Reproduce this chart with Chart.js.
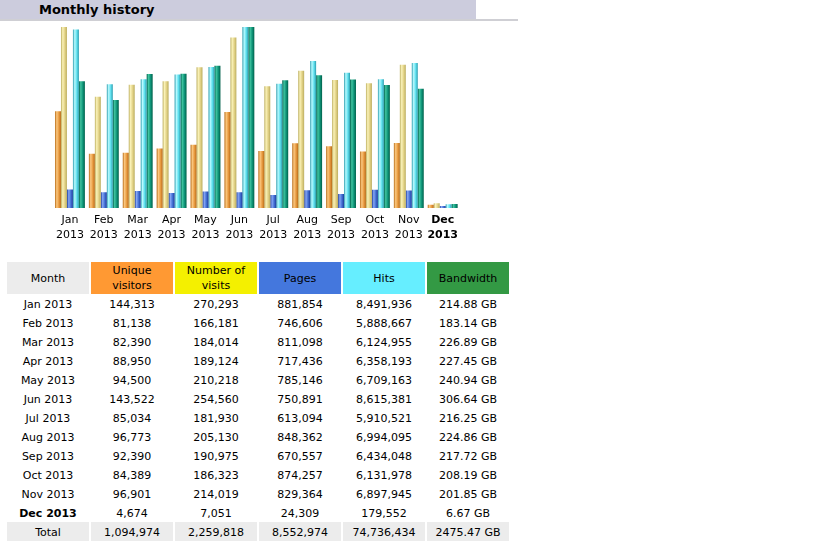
<!DOCTYPE html>
<html>
<head>
<meta charset="utf-8">
<script src="https://cdn.jsdelivr.net/npm/chart.js@4"></script>
<style>
  body { margin: 0; background: #fff; font-family: "DejaVu Sans", Verdana, sans-serif; }
  .title_bar { position: absolute; left: 0; top: 0; width: 476px; height: 19px; background: #ccccdd; }
  .title_bar span { position: absolute; left: 39px; top: 2px; font-size: 13px; font-weight: bold; color: #000; }
  .title_line { position: absolute; left: 0; top: 19px; width: 518px; height: 2px; background: #cfcfd4; }
  .chart_box { position: absolute; left: 53px; top: 20px; width: 408px; height: 226px; }
  table { position: absolute; left: 5px; top: 262px; border-collapse: separate; border-spacing: 2px 0; font-size: 11px; }
  td { width: 82px; height: 17px; padding: 2px 0 0 0; text-align: center; color: #000; }
  thead td { height: 32px; padding: 0; line-height: 15px; }
  .gray { background: #ececec; }
  .bold { font-weight: bold; }
</style>
</head>
<body>
<div class="title_bar"><span>Monthly history</span></div>
<div class="title_line"></div>
<div class="chart_box"><canvas id="history"></canvas></div>
<table id="stats">
  <thead>
    <tr>
      <td class="gray">Month</td>
      <td style="background:#ff9933">Unique<br>visitors</td>
      <td style="background:#f4f000">Number of<br>visits</td>
      <td style="background:#4477dd">Pages</td>
      <td style="background:#66eeff">Hits</td>
      <td style="background:#339944">Bandwidth</td>
    </tr>
  </thead>
  <tbody></tbody>
</table>
<script>
const months = ["Jan", "Feb", "Mar", "Apr", "May", "Jun", "Jul", "Aug", "Sep", "Oct", "Nov", "Dec"];
const year = "2013";
const uniqueVisitors = [144313, 81138, 82390, 88950, 94500, 143522, 85034, 96773, 92390, 84389, 96901, 4674];
const visits = [270293, 166181, 184014, 189124, 210218, 254560, 181930, 205130, 190975, 186323, 214019, 7051];
const pages = [881854, 746606, 811098, 717436, 785146, 750891, 613094, 848362, 670557, 874257, 829364, 24309];
const hits = [8491936, 5888667, 6124955, 6358193, 6709163, 8615381, 5910521, 6994095, 6434048, 6131978, 6897945, 179552];
const bandwidthGB = [214.88, 183.14, 226.89, 227.45, 240.94, 306.64, 216.25, 224.86, 217.72, 208.19, 201.85, 6.67];
const totals = ["1,094,974", "2,259,818", "8,552,974", "74,736,434", "2475.47 GB"];
const currentMonth = 11;

// colour stops for the shaded bars: edge, highlight, body
const shades = [
  ["#b86c18", "#fbc880", "#e89a40"],
  ["#bcae60", "#faf2b8", "#e2d286"],
  ["#1c3c9c", "#86a6f4", "#4470d4"],
  ["#2c9cae", "#b8faff", "#5ee0ee"],
  ["#00604a", "#40c4a0", "#0e9478"],
];

const catPct = 30 / 34;

function barFill(idx) {
  return (c) => {
    const xs = c.chart.scales.x;
    const s = shades[idx];
    if (!xs || c.dataIndex === undefined) return s[2];
    const group = (xs.width / months.length) * catPct;
    const w = group / 5;
    const left = xs.getPixelForValue(c.dataIndex) - group / 2 + idx * w;
    if (!isFinite(left) || !isFinite(w) || w <= 0) return s[2];
    const g = c.chart.ctx.createLinearGradient(left, 0, left + w, 0);
    g.addColorStop(0, s[0]);
    g.addColorStop(0.3, s[1]);
    g.addColorStop(0.65, s[2]);
    g.addColorStop(1, s[0]);
    return g;
  };
}

const fmt = (n) => n.toLocaleString("en-US");

const chart = new Chart(document.getElementById("history"), {
  type: "bar",
  data: {
    labels: months.map((m) => [m, year]),
    datasets: [
      { label: "Unique visitors", data: uniqueVisitors, yAxisID: "yv", backgroundColor: barFill(0) },
      { label: "Number of visits", data: visits, yAxisID: "yv", backgroundColor: barFill(1) },
      { label: "Pages", data: pages, yAxisID: "yh", backgroundColor: barFill(2) },
      { label: "Hits", data: hits, yAxisID: "yh", backgroundColor: barFill(3) },
      { label: "Bandwidth", data: bandwidthGB, yAxisID: "yk", backgroundColor: barFill(4) },
    ],
  },
  options: {
    responsive: true,
    maintainAspectRatio: false,
    animation: false,
    layout: { padding: { top: 7, left: 0, right: 0, bottom: 0 } },
    datasets: { bar: { categoryPercentage: catPct, barPercentage: 1, minBarLength: 2 } },
    plugins: { legend: { display: false }, tooltip: { enabled: false } },
    scales: {
      x: {
        // invisible tick marks push the labels down without adding side padding
        grid: { display: true, drawOnChartArea: false, drawTicks: true, tickLength: 2, color: "rgba(0,0,0,0)" },
        border: { display: false },
        ticks: {
          padding: 3,
          color: "#000",
          autoSkip: false,
          maxRotation: 0,
          font: (c) => ({
            family: "DejaVu Sans",
            size: 11,
            lineHeight: 15 / 11,
            weight: c.index === currentMonth ? "bold" : "normal",
          }),
        },
      },
      yv: { display: false, min: 0, max: Math.max(...visits) },
      yh: { display: false, min: 0, max: Math.max(...hits) },
      yk: { display: false, min: 0, max: Math.max(...bandwidthGB) },
    },
  },
});
chart.update();

const body = document.querySelector("#stats tbody");
months.forEach((m, i) => {
  const tr = document.createElement("tr");
  const cells = [
    m + " " + year,
    fmt(uniqueVisitors[i]),
    fmt(visits[i]),
    fmt(pages[i]),
    fmt(hits[i]),
    bandwidthGB[i].toFixed(2) + " GB",
  ];
  cells.forEach((t, j) => {
    const td = document.createElement("td");
    td.textContent = t;
    if (j === 0 && i === currentMonth) td.className = "bold";
    tr.appendChild(td);
  });
  body.appendChild(tr);
});
const totalRow = document.createElement("tr");
["Total"].concat(totals).forEach((t) => {
  const td = document.createElement("td");
  td.textContent = t;
  td.className = "gray";
  totalRow.appendChild(td);
});
body.appendChild(totalRow);
</script>
</body>
</html>
